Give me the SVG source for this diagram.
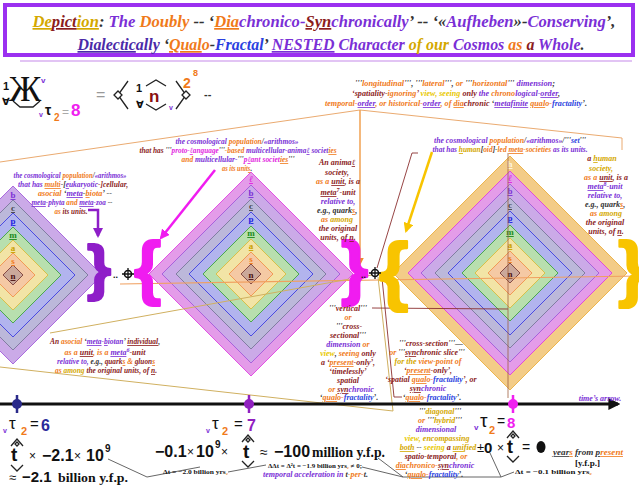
<svg xmlns="http://www.w3.org/2000/svg" width="639" height="494" viewBox="0 0 639 494">
<style>
.lb{font-family:"Liberation Serif","DejaVu Serif",serif;font-weight:bold;font-style:italic;font-size:8px;fill:#8b1c1c}
.tt{font-family:"Liberation Serif","DejaVu Serif",serif;font-weight:bold;font-style:italic;font-size:17px;fill:#333}
.sn{font-family:"Liberation Sans","DejaVu Sans",sans-serif;font-weight:bold;fill:#111}
.sr{font-family:"Liberation Serif","DejaVu Serif",serif;font-weight:bold;fill:#111}
.P{fill:#7a2fd6}.O{fill:#f07a1a}.R{fill:#8b1c1c}.G{fill:#d4a800}.B{fill:#2a3fe0}.M{fill:#e21ee0}.K{fill:#333}.Y{fill:#e8c800}.I{fill:#4a2aa8}
.u{text-decoration:underline}
.ly{font-family:"Liberation Serif",serif;font-weight:bold;font-size:9px;text-anchor:middle;text-decoration:underline}
.dh{fill:#f3cc88;stroke:#e8a830;stroke-width:0.8}
.dl{fill:#e49ce9;stroke:#e030e0;stroke-width:0.8}
.db{fill:#cbaae8;stroke:#9a50d8;stroke-width:0.8}
.dc{fill:#bcb8da;stroke:#707090;stroke-width:0.8}
.dp{fill:#b2b4ee;stroke:#3030e0;stroke-width:0.8}
.dm{fill:#b8dfae;stroke:#30a030;stroke-width:0.8}
.da{fill:#f2e4a6;stroke:#d8b830;stroke-width:0.8}
.ds{fill:#f5c9a4;stroke:#f08a40;stroke-width:0.8}
.dn{fill:#cba89a;stroke:#703030;stroke-width:0.8}
.thin{fill:none;stroke-width:0.9}
.orn{fill:none;stroke:#222;stroke-width:1.3}
.br{font-family:"Liberation Sans",sans-serif;font-weight:bold;stroke-width:2.2;stroke-linejoin:round}
</style>
<defs>
<marker id="aP" viewBox="0 0 10 10" refX="8" refY="5" markerWidth="4" markerHeight="4" orient="auto"><path d="M0,0 L10,5 L0,10 z" fill="#8e1ec8"/></marker>
<marker id="aM" viewBox="0 0 10 10" refX="8" refY="5" markerWidth="4" markerHeight="4" orient="auto"><path d="M0,0 L10,5 L0,10 z" fill="#f01cf0"/></marker>
<marker id="aG" viewBox="0 0 10 10" refX="8" refY="5" markerWidth="4" markerHeight="4" orient="auto"><path d="M0,0 L10,5 L0,10 z" fill="#f8c400"/></marker>
<marker id="aO" viewBox="0 0 10 10" refX="8" refY="5" markerWidth="5" markerHeight="5" orient="auto"><path d="M0,0 L10,5 L0,10 z" fill="#f08a30"/></marker>
<marker id="aK" viewBox="0 0 10 10" refX="8" refY="5" markerWidth="4" markerHeight="4" orient="auto"><path d="M0,0 L10,5 L0,10 z" fill="#111"/></marker>
</defs>
<rect width="639" height="494" fill="#fff"/>

<g id="title">
<rect x="5" y="5" width="628" height="50" fill="#fff" stroke="#9b30f0" stroke-width="4"/>
<line x1="20" y1="61" x2="632" y2="61" stroke="#d8b0f0" stroke-width="1.5"/>
<text class="tt" x="324" y="27" text-anchor="middle" textLength="583" lengthAdjust="spacingAndGlyphs"><tspan class="G u">De</tspan><tspan class="R u">pict</tspan><tspan class="G u">ion</tspan><tspan class="K">: </tspan><tspan class="P">The </tspan><tspan class="O">Doubly</tspan><tspan class="K"> -- ‘</tspan><tspan class="O u">Dia</tspan><tspan class="P">chronico-</tspan><tspan class="R u">Syn</tspan><tspan class="P">chronically</tspan><tspan class="K">’ -- ‘«</tspan><tspan class="P">Aufheben</tspan><tspan class="K">»-</tspan><tspan class="P">Conserving</tspan><tspan class="K">’,</tspan></text>
<text class="tt" x="331" y="50" text-anchor="middle" textLength="507" lengthAdjust="spacingAndGlyphs"><tspan class="I u">Dialectic</tspan><tspan class="I">ally</tspan><tspan class="K"> ‘</tspan><tspan class="O u">Qual</tspan><tspan class="O">o</tspan><tspan class="K">-</tspan><tspan class="B">Fractal</tspan><tspan class="K">’ </tspan><tspan class="P u">NESTED</tspan><tspan class="P"> Character </tspan><tspan class="G">of </tspan><tspan class="G">our </tspan><tspan class="P">Cosmos </tspan><tspan class="O">as </tspan><tspan class="R">a </tspan><tspan class="P">Whole</tspan><tspan class="K">.</tspan></text>
</g>

<g id="formula">
<text class="sn" x="3" y="90" font-size="11">1</text>
<text x="9" y="101" font-family="Liberation Serif,serif" font-size="36" fill="#111">Ж</text>
<text class="sn" x="2" y="105" font-size="10">∀</text>
<text class="sn" x="41" y="83" font-size="8" style="fill:#7a2fd6">v</text>
<path class="orn" d="M13,101 L20,107 L33,107 L40,101"/>
<text class="sn" x="39" y="117" font-size="7" style="fill:#7a2fd6">v</text>
<text class="sn" x="45" y="115" font-size="14">τ</text>
<text class="sn" x="54" y="121" font-size="10" style="fill:#f07a1a">2</text>
<text x="62" y="116" font-family="Liberation Sans,sans-serif" font-size="12" fill="#aaa">=</text>
<text class="sn" x="71" y="116" font-size="17" style="fill:#f020f0">8</text>
<text x="96" y="100" font-family="Liberation Sans,sans-serif" font-size="16" fill="#999">=</text>
<path class="orn" d="M128,81 L118,95 L128,109" stroke-width="1.6"/>
<path d="M118,91 L122,95 L118,99 L114,95 Z" fill="#fff" stroke="#222" stroke-width="1.3"/>
<text class="sn" x="136" y="92" font-size="11">1</text>
<text class="sn" x="136" y="108" font-size="10">∀</text>
<path class="orn" d="M146,86 L156,80 L166,86"/>
<path class="orn" d="M146,104 L156,110 L166,104"/>
<text class="sn" x="149" y="102" font-size="17" style="fill:#8b1010">n</text>
<text class="sn" x="169" y="110" font-size="7" style="fill:#7a2fd6">v</text>
<path class="orn" d="M176,81 L186,95 L176,109" stroke-width="1.6"/>
<path d="M186,91 L190,95 L186,99 L182,95 Z" fill="#fff" stroke="#222" stroke-width="1.3"/>
<text class="sn" x="183" y="88" font-size="14" style="fill:#f07a1a">2</text>
<text class="sn" x="193" y="76" font-size="9" style="fill:#f07a1a">8</text>
<text class="sn" x="204" y="98" font-size="11" style="fill:#333">--</text>
</g>

<g id="stack-left">
<polygon class="db" points="13,186 102,275 13,364 -76,275"/>
<polygon class="dc" points="13,200 88,275 13,350 -62,275"/>
<polygon class="dp" points="13,213 75,275 13,337 -49,275"/>
<polygon class="dm" points="13,227 61,275 13,323 -35,275"/>
<polygon class="da" points="13,240 48,275 13,310 -22,275"/>
<polygon class="ds" points="13,253 35,275 13,297 -9,275"/>
<polygon class="dn" points="13,265 23,275 13,285 3,275"/>
<text class="ly" x="13" y="198" fill="#7a2fd6">b</text>
<text class="ly" x="13" y="211" fill="#444">c</text>
<text class="ly" x="13" y="224" fill="#2020e0">p</text>
<text class="ly" x="13" y="238" fill="#1a8a1a">m</text>
<text class="ly" x="13" y="251" fill="#c8a000">a</text>
<text class="ly" x="13" y="264" fill="#f07a1a">s</text>
<text class="ly" x="13" y="279" fill="#4a1010">n</text>
</g>

<g id="stack-middle">
<polygon class="dl" points="251,172 353,274 251,376 149,274"/>
<polygon class="db" points="251,185 340,274 251,363 162,274"/>
<polygon class="dc" points="251,199 326,274 251,349 176,274"/>
<polygon class="dp" points="251,212 313,274 251,336 189,274"/>
<polygon class="dm" points="251,226 299,274 251,322 203,274"/>
<polygon class="da" points="251,239 286,274 251,309 216,274"/>
<polygon class="ds" points="251,252 273,274 251,296 229,274"/>
<polygon class="dn" points="251,264 261,274 251,284 241,274"/>
<text class="ly" x="251" y="182" fill="#e020e0" font-style="italic">ℓ</text>
<text class="ly" x="251" y="196" fill="#7a2fd6">b</text>
<text class="ly" x="251" y="209" fill="#444">c</text>
<text class="ly" x="251" y="222" fill="#2020e0">p</text>
<text class="ly" x="251" y="236" fill="#1a8a1a">m</text>
<text class="ly" x="251" y="249" fill="#c8a000">a</text>
<text class="ly" x="251" y="262" fill="#f07a1a">s</text>
<text class="ly" x="251" y="278" fill="#4a1010">n</text>
</g>

<g id="stack-right">
<polygon class="dh" points="510,156 627,273 510,390 393,273"/>
<polygon class="dl" points="510,171 612,273 510,375 408,273"/>
<polygon class="db" points="510,184 599,273 510,362 421,273"/>
<polygon class="dc" points="510,198 585,273 510,348 435,273"/>
<polygon class="dp" points="510,211 572,273 510,335 448,273"/>
<polygon class="dm" points="510,225 558,273 510,321 462,273"/>
<polygon class="da" points="510,238 545,273 510,308 475,273"/>
<polygon class="ds" points="510,251 532,273 510,295 488,273"/>
<polygon class="dn" points="510,263 520,273 510,283 500,273"/>
<text class="ly" x="510" y="167" fill="#fff8e0">h</text>
<text class="ly" x="510" y="181" fill="#e020e0" font-style="italic">ℓ</text>
<text class="ly" x="510" y="194" fill="#7a2fd6">b</text>
<text class="ly" x="510" y="208" fill="#444">c</text>
<text class="ly" x="510" y="221" fill="#2020e0">p</text>
<text class="ly" x="510" y="235" fill="#1a8a1a">m</text>
<text class="ly" x="510" y="248" fill="#c8a000">a</text>
<text class="ly" x="510" y="261" fill="#f07a1a">s</text>
<text class="ly" x="510" y="277" fill="#4a1010">n</text>
</g>

<g id="connectors">
<polyline class="thin" points="0,162 360,110 622,138 622,150" stroke="#e8a060" stroke-width="1.3"/>
<line x1="360" y1="110" x2="360" y2="264" stroke="#f0a050" stroke-width="1.5" marker-end="url(#aO)"/>
<line x1="120" y1="284" x2="639" y2="276" stroke="#f0a060" stroke-width="1.2"/>
<line x1="50" y1="333" x2="372" y2="275" stroke="#d0b060" stroke-width="1"/>
<line x1="0" y1="367" x2="393" y2="411" stroke="#d0b060" stroke-width="1"/>
<line x1="378" y1="277" x2="393" y2="411" stroke="#d0b060" stroke-width="1"/>
<polyline class="thin" points="372,308 508,309" stroke="#8b3030"/>
<polyline class="thin" points="418,153 412,153 377,268" stroke="#8b3030"/>
<polyline class="thin" points="382,278 394,397 402,397" stroke="#8b3030"/>
<line x1="508" y1="153" x2="508" y2="398" stroke="#a06040" stroke-width="0.8"/>
<polyline points="88,210 98,210 98,236" fill="none" stroke="#8e1ec8" stroke-width="2.5" marker-end="url(#aP)"/>
<line x1="215" y1="170" x2="161" y2="238" stroke="#f01cf0" stroke-width="2.5" marker-end="url(#aM)"/>
<line x1="432" y1="152" x2="406" y2="231" stroke="#f8c400" stroke-width="2.5" marker-end="url(#aG)"/>
<line x1="0" y1="404" x2="618" y2="404" stroke="#111" stroke-width="3" marker-end="url(#aK)"/>
<polyline class="thin" points="108,459 147,477 200,467" stroke="#555"/>
<polyline class="thin" points="228,472 266,465" stroke="#555"/>
<polyline class="thin" points="378,458 403,477 501,477" stroke="#555"/>
<polyline class="thin" points="362,467 403,477" stroke="#555"/>
<polyline class="thin" points="490,453 501,477 514,472" stroke="#555"/>
</g>

<g id="braces">
<text class="br" x="87" y="288" font-size="62" fill="#8e1ec8" stroke="#8e1ec8">}</text>
<text class="br" x="134" y="291" font-size="70" fill="#f01cf0" stroke="#f01cf0">{</text>
<text class="br" x="341" y="291" font-size="70" fill="#f01cf0" stroke="#f01cf0">}</text>
<text class="br" x="379" y="296" font-size="76" fill="#f8c400" stroke="#f8c400">{</text>
<text class="br" x="618" y="293" font-size="72" fill="#f8c400" stroke="#f8c400">}</text>
<text class="sn" x="113" y="278" font-size="9">..</text>
<circle cx="128" cy="274" r="3.5" fill="none" stroke="#111" stroke-width="1.6"/>
<path d="M128,268 V280 M122,274 H134" stroke="#111" stroke-width="1.3"/>
<text class="sn" x="361" y="278" font-size="9">..</text>
<circle cx="375" cy="273" r="3.5" fill="none" stroke="#111" stroke-width="1.6"/>
<path d="M375,267 V279 M369,273 H381" stroke="#111" stroke-width="1.3"/>
</g>

<g id="label-topright" class="lb" text-anchor="middle">
<text x="455" y="86" textLength="200" lengthAdjust="spacingAndGlyphs"><tspan class="K">'''</tspan><tspan class="O">longitudinal</tspan><tspan class="K">''', '''</tspan><tspan class="O">lateral</tspan><tspan class="K">''', </tspan><tspan class="O">or </tspan><tspan class="K">'''</tspan><tspan class="O">horizontal</tspan><tspan class="K">''' </tspan><tspan class="P">dimension</tspan><tspan class="K">;</tspan></text>
<text x="456" y="96" textLength="208" lengthAdjust="spacingAndGlyphs"><tspan class="R">‘spatiality-</tspan><tspan class="O">ignoring</tspan><tspan class="R">’ </tspan><tspan class="Y">view, seeing </tspan><tspan class="R">only </tspan><tspan class="P">the </tspan><tspan class="O">chrono</tspan><tspan class="P">logical-</tspan><tspan class="P u">order</tspan><tspan class="K">,</tspan></text>
<text x="456" y="106" textLength="262" lengthAdjust="spacingAndGlyphs"><tspan class="O">temporal-</tspan><tspan class="P u">order</tspan><tspan class="O">, or historical-</tspan><tspan class="P u">order</tspan><tspan class="O">, of </tspan><tspan class="O u">dia</tspan><tspan class="R">chronic </tspan><tspan class="K">‘</tspan><tspan class="P u">metafinite</tspan><tspan class="K"> </tspan><tspan class="O u">qual</tspan><tspan class="O">o-</tspan><tspan class="B">fractality</tspan><tspan class="K">’.</tspan></text>
</g>

<g id="label-left-top" class="lb" text-anchor="middle">
<text x="70" y="178" textLength="113" lengthAdjust="spacingAndGlyphs"><tspan class="P">the cosmological </tspan><tspan class="O">population</tspan><tspan class="K">/</tspan><tspan class="P">«arithmos»</tspan></text>
<text x="73" y="187" textLength="110" lengthAdjust="spacingAndGlyphs"><tspan class="P">that has </tspan><tspan class="O u">multi</tspan><tspan class="K">-[</tspan><tspan class="P u">e</tspan><tspan class="P">ukaryotic</tspan><tspan class="R">-]cellular,</tspan></text>
<text x="75" y="196" textLength="74" lengthAdjust="spacingAndGlyphs"><tspan class="O">asocial </tspan><tspan class="K">‘</tspan><tspan class="P u">meta</tspan><tspan class="K">-</tspan><tspan class="O u">b</tspan><tspan class="O">iota</tspan><tspan class="K">’ --</tspan></text>
<text x="72" y="205" textLength="81" lengthAdjust="spacingAndGlyphs"><tspan class="P u">meta</tspan><tspan class="P">-phyta</tspan><tspan class="O"> and </tspan><tspan class="P u">meta</tspan><tspan class="P">-zoa</tspan><tspan class="K"> --</tspan></text>
<text x="71" y="214" textLength="33" lengthAdjust="spacingAndGlyphs"><tspan class="O">as </tspan><tspan class="R">its units.</tspan></text>
</g>

<g id="label-middle-top" class="lb" text-anchor="middle">
<text x="237" y="144" textLength="123" lengthAdjust="spacingAndGlyphs"><tspan class="P">the cosmological </tspan><tspan class="O">population</tspan><tspan class="K">/</tspan><tspan class="P">«arithmos»</tspan></text>
<text x="238" y="153" textLength="197" lengthAdjust="spacingAndGlyphs"><tspan class="R">that has </tspan><tspan class="K">'''</tspan><tspan class="M">proto-</tspan><tspan class="M u">ℓ</tspan><tspan class="M">anguage</tspan><tspan class="K">'''</tspan><tspan class="O">-based </tspan><tspan class="P">multicellular-anima</tspan><tspan class="P u">ℓ</tspan><tspan class="P"> societ</tspan><tspan class="O u">ies</tspan></text>
<text x="238" y="162" textLength="113" lengthAdjust="spacingAndGlyphs"><tspan class="O">and </tspan><tspan class="P">multicellular-</tspan><tspan class="K">'''</tspan><tspan class="M">p</tspan><tspan class="M u">ℓ</tspan><tspan class="M">ant societ</tspan><tspan class="O u">ies</tspan><tspan class="K">'''</tspan></text>
<text x="237" y="171" textLength="30" lengthAdjust="spacingAndGlyphs"><tspan class="O">as its unit</tspan><tspan class="O u">s</tspan><tspan class="K">.</tspan></text>
</g>

<g id="label-animal" class="lb" text-anchor="middle">
<text x="337" y="165"><tspan class="R">An anima</tspan><tspan class="R u">ℓ</tspan></text>
<text x="337" y="175" class="R">society,</text>
<text x="338" y="184"><tspan class="O">as a </tspan><tspan class="R u">unit</tspan><tspan class="R">, is a</tspan></text>
<text x="338" y="195"><tspan class="R u">meta</tspan><tspan class="R" font-size="6" dy="-3">7</tspan><tspan class="R" dy="3">-unit</tspan></text>
<text x="338" y="204" class="P">relative to,</text>
<text x="337" y="213"><tspan class="K">e.g., quark</tspan><tspan class="O u">s</tspan><tspan class="K">,</tspan></text>
<text x="337" y="222"><tspan class="O">as </tspan><tspan class="G">among</tspan></text>
<text x="338" y="231" class="R">the original</text>
<text x="338" y="240"><tspan class="R">units, of </tspan><tspan class="R u">n</tspan><tspan class="R">.</tspan></text>
</g>

<g id="label-right-top" class="lb" text-anchor="middle">
<text x="510" y="143" textLength="152" lengthAdjust="spacingAndGlyphs"><tspan class="P">the cosmological </tspan><tspan class="O">population</tspan><tspan class="K">/</tspan><tspan class="P">«arithmos»</tspan><tspan class="K">/'''</tspan><tspan class="B">set</tspan><tspan class="K">'''</tspan></text>
<text x="510" y="152" textLength="155" lengthAdjust="spacingAndGlyphs"><tspan class="P">that has </tspan><tspan class="G u">h</tspan><tspan class="G">uman</tspan><tspan class="K">[</tspan><tspan class="O">oid</tspan><tspan class="K">]-</tspan><tspan class="O">led </tspan><tspan class="O u">meta</tspan><tspan class="O">-societies</tspan><tspan class="P"> as its units.</tspan></text>
</g>

<g id="label-human" class="lb" text-anchor="middle">
<text x="602" y="161"><tspan class="R">a </tspan><tspan class="G u">h</tspan><tspan class="G">uman</tspan></text>
<text x="601" y="171" class="G">society,</text>
<text x="606" y="180"><tspan class="O">as a </tspan><tspan class="R u">unit</tspan><tspan class="R">, is a</tspan></text>
<text x="605" y="189"><tspan class="P u">meta</tspan><tspan class="P" font-size="6" dy="-3">8</tspan><tspan class="P" dy="3">-unit</tspan></text>
<text x="605" y="198" class="P">relative to,</text>
<text x="605" y="207"><tspan class="K">e.g., quark</tspan><tspan class="O u">s</tspan><tspan class="K">,</tspan></text>
<text x="606" y="216"><tspan class="O">as </tspan><tspan class="G">among</tspan></text>
<text x="605" y="225" class="R">the original</text>
<text x="606" y="234"><tspan class="R">units, of </tspan><tspan class="R u">n</tspan><tspan class="R">.</tspan></text>
</g>

<g id="label-left-bottom" class="lb" text-anchor="middle">
<text x="105" y="344" textLength="110" lengthAdjust="spacingAndGlyphs"><tspan class="R">An </tspan><tspan class="O">asocial </tspan><tspan class="K">‘</tspan><tspan class="P u">meta</tspan><tspan class="P">-</tspan><tspan class="P u">b</tspan><tspan class="P">iotan</tspan><tspan class="K">’ </tspan><tspan class="R u">individual</tspan><tspan class="K">,</tspan></text>
<text x="105" y="355"><tspan class="O">as a </tspan><tspan class="R u">unit</tspan><tspan class="O">, is a </tspan><tspan class="P u">meta</tspan><tspan class="P" font-size="6" dy="-3">6</tspan><tspan class="R" dy="3">-unit</tspan></text>
<text x="106" y="364" textLength="98" lengthAdjust="spacingAndGlyphs"><tspan class="P">relative to, </tspan><tspan class="K">e.g., </tspan><tspan class="R">quark</tspan><tspan class="O u">s</tspan><tspan class="O"> &amp; </tspan><tspan class="R">gluon</tspan><tspan class="O u">s</tspan></text>
<text x="106" y="373" textLength="102" lengthAdjust="spacingAndGlyphs"><tspan class="O">as </tspan><tspan class="G">among </tspan><tspan class="R">the original units, of </tspan><tspan class="R u">n</tspan><tspan class="R">.</tspan></text>
</g>

<g id="label-vertical" class="lb" text-anchor="middle">
<text x="348" y="311"><tspan class="K">'''</tspan><tspan class="R">vertical</tspan><tspan class="K">'''</tspan></text>
<text x="348" y="320" class="O">or</text>
<text x="349" y="329"><tspan class="K">'''</tspan><tspan class="R">cross-</tspan></text>
<text x="348" y="338"><tspan class="R">sectional</tspan><tspan class="K">'''</tspan></text>
<text x="348" y="347"><tspan class="P">dimension </tspan><tspan class="O">or</tspan></text>
<text x="348" y="356"><tspan class="Y">view</tspan><tspan class="K">, </tspan><tspan class="O">seeing </tspan><tspan class="R">only</tspan></text>
<text x="348" y="365"><tspan class="R">a ‘</tspan><tspan class="O u">present</tspan><tspan class="R">-only’,</tspan></text>
<text x="348" y="374" class="R">‘timelessly’</text>
<text x="348" y="383" class="R">spatial</text>
<text x="351" y="392"><tspan class="O">or </tspan><tspan class="R u">syn</tspan><tspan class="P">chronic</tspan></text>
<text x="349" y="400"><tspan class="K">‘</tspan><tspan class="O u">qual</tspan><tspan class="O">o-</tspan><tspan class="B">fractality</tspan><tspan class="K">’.</tspan></text>
</g>

<g id="label-cross" class="lb" text-anchor="middle">
<text x="431" y="346"><tspan class="K">'''</tspan><tspan class="R">cross-section</tspan><tspan class="K">'''—</tspan></text>
<text x="427" y="355"><tspan class="O">or </tspan><tspan class="K">'''</tspan><tspan class="R u">syn</tspan><tspan class="R">chronic slice</tspan><tspan class="K">'''</tspan></text>
<text x="428" y="364"><tspan class="G">for the </tspan><tspan class="O">view-point of</tspan></text>
<text x="428" y="373"><tspan class="R">‘</tspan><tspan class="O u">present</tspan><tspan class="R">-only’,</tspan></text>
<text x="431" y="382"><tspan class="R">‘spatial </tspan><tspan class="O u">qual</tspan><tspan class="O">o-</tspan><tspan class="B">fractality</tspan><tspan class="R">’, or</tspan></text>
<text x="428" y="391"><tspan class="R u">syn</tspan><tspan class="P">chronic</tspan></text>
<text x="432" y="400"><tspan class="K">‘</tspan><tspan class="O u">qual</tspan><tspan class="O">o-</tspan><tspan class="B">fractality</tspan><tspan class="K">’.</tspan></text>
</g>

<g id="label-diagonal" class="lb" text-anchor="middle">
<text x="440" y="414"><tspan class="K">'''</tspan><tspan class="G">diagonal</tspan><tspan class="K">'''</tspan></text>
<text x="440" y="423"><tspan class="O">or </tspan><tspan class="K">'''</tspan><tspan class="G">hybrid</tspan><tspan class="K">'''</tspan></text>
<text x="436" y="432" class="P">dimensional</text>
<text x="437" y="441"><tspan class="Y">view, </tspan><tspan class="G">encompassing</tspan></text>
<text x="438" y="450"><tspan class="G u">both</tspan><tspan class="K"> -- </tspan><tspan class="Y">seeing </tspan><tspan class="R">a </tspan><tspan class="G u">uni</tspan><tspan class="G">fied</tspan></text>
<text x="436" y="459"><tspan class="R">spatio-temporal</tspan><tspan class="O">, or</tspan></text>
<text x="435" y="468"><tspan class="O u">dia</tspan><tspan class="O">chronico-</tspan><tspan class="R u">syn</tspan><tspan class="P">chronic</tspan></text>
<text x="434" y="477"><tspan class="K">‘</tspan><tspan class="O u">qual</tspan><tspan class="O">o-</tspan><tspan class="B">fractality</tspan><tspan class="K">’.</tspan></text>
</g>

<g id="timeline">
<line x1="17" y1="395" x2="17" y2="413" stroke="#2a2a8a" stroke-width="2.5"/>
<circle cx="17" cy="404" r="5" fill="#2a2a8a"/>
<line x1="249" y1="395" x2="249" y2="413" stroke="#9020c0" stroke-width="2.5"/>
<circle cx="249" cy="404" r="5" fill="#9020c0"/>
<line x1="513" y1="395" x2="513" y2="413" stroke="#f020f0" stroke-width="2.5"/>
<circle cx="513" cy="404" r="5" fill="#f020f0"/>
<text class="lb" x="600" y="401" text-anchor="middle" style="fill:#7a2fd6">time’s arrow.</text>
</g>

<g id="tau6">
<text class="sn" x="3" y="433" font-size="7" style="fill:#7a2fd6">v</text>
<text x="9" y="429" font-family="Liberation Sans,sans-serif" font-size="17" fill="#111">τ</text>
<text class="sn" x="21" y="435" font-size="11" style="fill:#f07a1a">2</text>
<text x="30" y="429" font-family="Liberation Sans,sans-serif" font-size="15" fill="#111">=</text>
<text class="sn" x="41" y="431" font-size="16" style="fill:#2a2a9a">6</text>
<path class="orn" d="M11,446 L17,439 L23,446"/><path class="orn" d="M17,442 L19,444 L17,446 L15,444 Z" stroke-width="0.9"/>
<text class="sn" x="11" y="461" font-size="19">t</text>
<text x="29" y="460" font-family="Liberation Sans,sans-serif" font-size="12" fill="#111">×</text>
<text class="sn" x="42" y="461" font-size="16">−2.1</text>
<text x="74" y="460" font-family="Liberation Sans,sans-serif" font-size="12" fill="#111">×</text>
<text class="sn" x="86" y="461" font-size="16">10</text>
<text class="sn" x="105" y="452" font-size="10">9</text>
<path class="orn" d="M11,465 L17,471 L23,465"/>
<text x="9" y="482" font-family="Liberation Sans,sans-serif" font-size="13" fill="#111">≈</text>
<text class="sn" x="22" y="482" font-size="15">−2.1</text>
<text class="sr" x="58" y="482" font-size="13" textLength="70" lengthAdjust="spacingAndGlyphs">billion  y.f.p.</text>
</g>

<g id="tau7">
<text class="sn" x="206" y="433" font-size="7" style="fill:#7a2fd6">v</text>
<text x="212" y="429" font-family="Liberation Sans,sans-serif" font-size="17" fill="#111">τ</text>
<text class="sn" x="222" y="435" font-size="11" style="fill:#f07a1a">2</text>
<text x="234" y="429" font-family="Liberation Sans,sans-serif" font-size="15" fill="#111">=</text>
<text class="sn" x="247" y="431" font-size="16" style="fill:#9020c0">7</text>
<path class="orn" d="M242,442 L248,435 L254,442"/><path class="orn" d="M248,438 L250,440 L248,442 L246,440 Z" stroke-width="0.9"/>
<text class="sn" x="155" y="457" font-size="16">−0.1</text>
<text x="187" y="456" font-family="Liberation Sans,sans-serif" font-size="12" fill="#111">×</text>
<text class="sn" x="196" y="457" font-size="16">10</text>
<text class="sn" x="215" y="448" font-size="10">9</text>
<text x="221" y="456" font-family="Liberation Sans,sans-serif" font-size="12" fill="#111">×</text>
<text class="sn" x="243" y="458" font-size="19">t</text>
<text x="260" y="457" font-family="Liberation Sans,sans-serif" font-size="14" fill="#111">≈</text>
<text class="sn" x="274" y="457" font-size="16">−100</text>
<text class="sr" x="312" y="457" font-size="14" textLength="73" lengthAdjust="spacingAndGlyphs">million  y.f.p.</text>
<path class="orn" d="M242,461 L248,467 L254,461"/>
<text class="sr" x="163" y="474" font-size="6.5" textLength="65" lengthAdjust="spacingAndGlyphs">Δt = −2.0 billion yrs<tspan style="fill:#f07a1a">₂</tspan></text>
<text class="sr" x="268" y="468" font-size="6.5" textLength="94" lengthAdjust="spacingAndGlyphs">ΔΔt = Δ²t = −1.9 billion yrs<tspan style="fill:#f07a1a">₂</tspan> ≠ 0;</text>
<text class="lb" x="263" y="477" textLength="105" lengthAdjust="spacingAndGlyphs"><tspan class="P">temporal acceleration in </tspan><tspan class="K">t</tspan><tspan class="O">-per-</tspan><tspan class="K">t.</tspan></text>
</g>

<g id="tau8">
<text class="sn" x="474" y="430" font-size="8" style="fill:#7a2fd6">v</text>
<text x="480" y="427" font-family="Liberation Sans,sans-serif" font-size="19" fill="#111">τ</text>
<text class="sn" x="489" y="434" font-size="11" style="fill:#f07a1a">2</text>
<text x="497" y="426" font-family="Liberation Sans,sans-serif" font-size="14" fill="#111">=</text>
<text class="sn" x="507" y="428" font-size="15" style="fill:#f020f0">8</text>
<path class="orn" d="M507,438 L513,431 L519,438"/><path class="orn" d="M513,434 L515,436 L513,438 L511,436 Z" stroke-width="0.9"/>
<text x="477" y="452" font-family="Liberation Sans,sans-serif" font-size="13" fill="#111">±</text>
<text class="sn" x="484" y="453" font-size="15">0</text>
<text x="497" y="452" font-family="Liberation Sans,sans-serif" font-size="12" fill="#111">×</text>
<text class="sn" x="507" y="453" font-size="18">t</text>
<text x="522" y="452" font-family="Liberation Sans,sans-serif" font-size="14" fill="#111">=</text>
<ellipse cx="541" cy="447" rx="4.5" ry="6" fill="#111"/>
<path class="orn" d="M507,456 L513,462 L519,456"/>
<text class="lb" x="553" y="455" font-size="9" textLength="70" lengthAdjust="spacingAndGlyphs"><tspan class="K u">year</tspan><tspan class="O u">s</tspan><tspan class="K"> </tspan><tspan class="K u">f</tspan><tspan class="K">rom </tspan><tspan class="K u">p</tspan><tspan class="O u">resent</tspan></text>
<text class="sr" x="575" y="466" font-size="8.5" fill="#333" textLength="25" lengthAdjust="spacingAndGlyphs">[y.f.p.]</text>
<text class="sr" x="515" y="474" font-size="7" textLength="77" lengthAdjust="spacingAndGlyphs">Δt = −0.1 billion yrs<tspan style="fill:#f07a1a">₂</tspan></text>
</g>
</svg>
